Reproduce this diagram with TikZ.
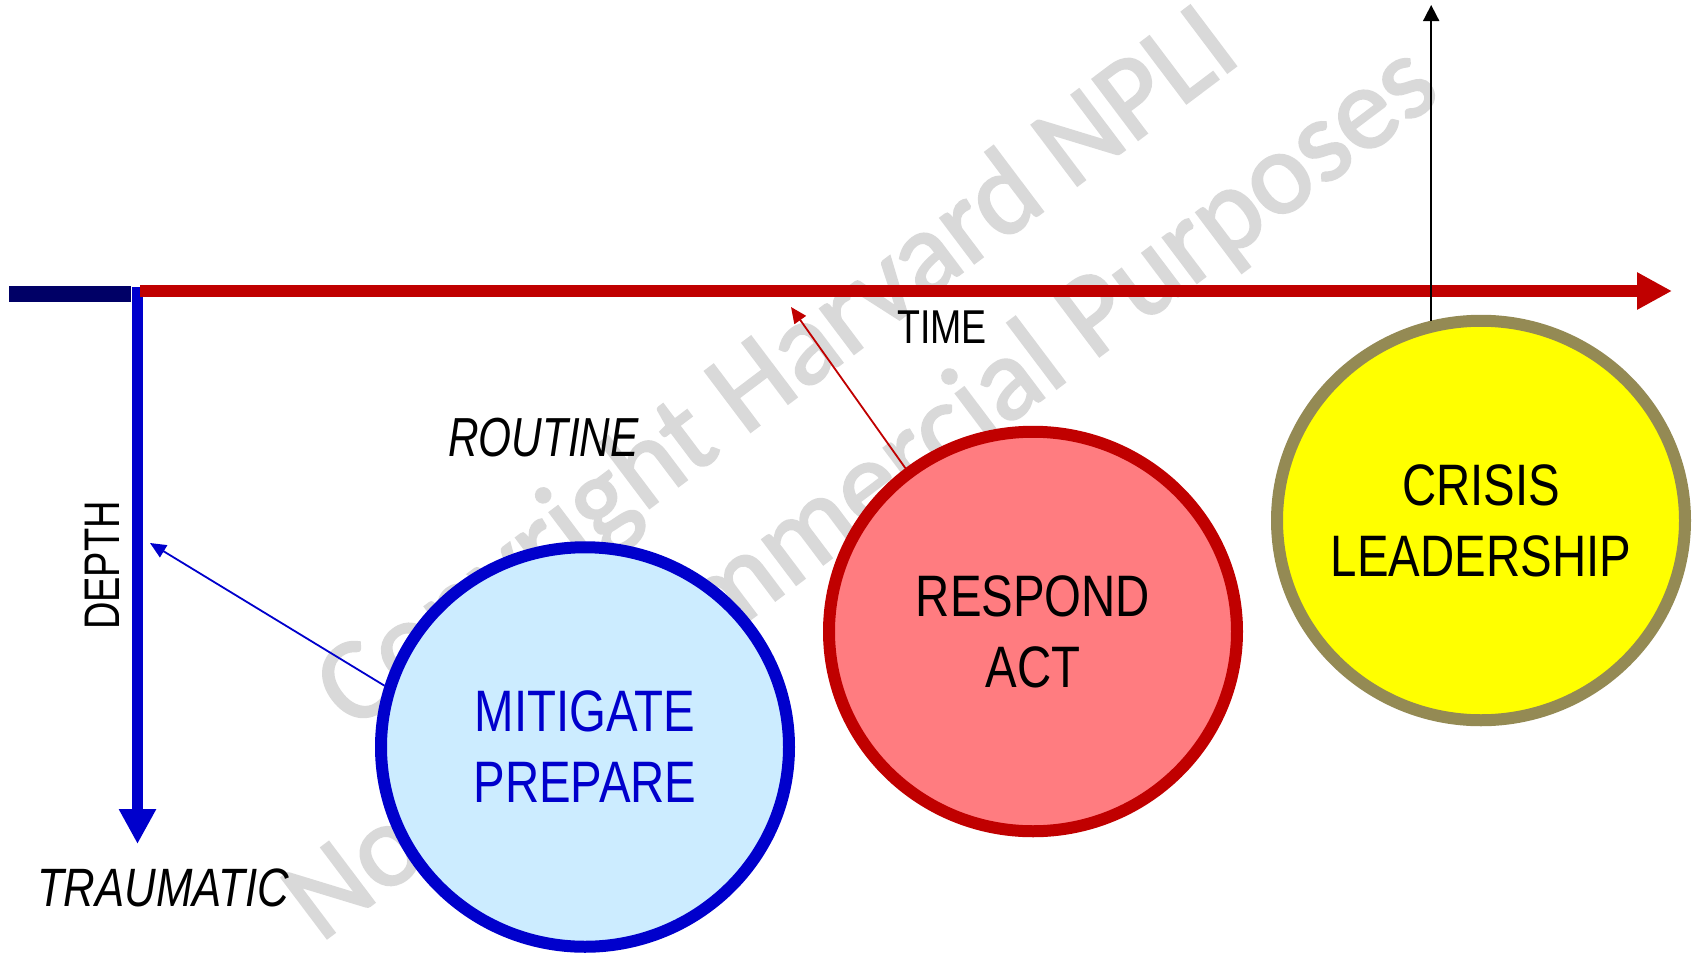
\documentclass[tikz,border=0pt]{standalone}
\usepackage{fontspec}
\setmainfont{Liberation Sans}
\newfontfamily\wmfont[FakeBold=2]{Carlito}
\usetikzlibrary{arrows.meta,shapes.geometric}

\definecolor{axisblue}{HTML}{0000CC}
\definecolor{axisred}{HTML}{C00000}
\definecolor{navybar}{HTML}{000066}
\definecolor{mitfill}{HTML}{CCECFF}
\definecolor{respfill}{HTML}{FF7C80}
\definecolor{crisfill}{HTML}{FFFF00}
\definecolor{crisline}{HTML}{948A54}
\definecolor{wmgray}{HTML}{D9D9D9}

\begin{document}
\begin{tikzpicture}[x=1pt,y=-1pt,
  phase/.style={ellipse, draw, line width=12pt, minimum width=408pt,
    minimum height=399.5pt, inner sep=0pt},
  phasetext/.style={inner sep=0pt, align=center,
    font=\fontsize{58.5}{71}\selectfont\addfontfeature{FakeStretch=0.81}},
  lbl/.style={anchor=base west, inner sep=0pt},
  wm/.style={anchor=base, inner sep=0pt, rotate=37, text=wmgray,
    font=\wmfont\fontsize{118}{140}\selectfont},
  pointer/.style={line width=1.8pt, -{Triangle[length=16pt,width=14pt]}},
  bigaxis/.style={-{Triangle[length=35pt,width=35pt]}}
]
\useasboundingbox (0,0) rectangle (1698,953);

% watermark behind everything
\node[wm] (wm1) at (798,396) {Copyright Harvard NPLI};
\node[wm] (wm2) at (882,520) {Not for Commercial Purposes};

% axes
\coordinate (navyL) at (9,294);
\coordinate (navyR) at (131,294);
\draw[navybar, line width=16pt] (navyL) -- (navyR);

\coordinate (depthtop) at (137.5,287);
\coordinate (depthend) at (137.5,844);
\draw[axisblue, line width=11pt, bigaxis] (depthtop) -- (depthend);

\coordinate (timestart) at (140,291);
\coordinate (timeend) at (1672,291);
\draw[axisred, line width=12pt, bigaxis] (timestart) -- (timeend);

% phases
\node[phase, fill=mitfill, draw=axisblue] (mitigate) at (585,747) {};
\node[phasetext, text=axisblue] (mitigatetext) at (mitigate.center) {MITIGATE\\PREPARE};
\node[phase, fill=respfill, draw=axisred] (respond) at (1033,631.5) {};
\node[phasetext] (respondtext) at (respond.center) {RESPOND\\ACT};
\node[phase, fill=crisfill, draw=crisline] (crisis) at (1481,520.5) {};
\node[phasetext] (crisistext) at (crisis.center) {CRISIS\\LEADERSHIP};

% pointers from the phases to the axes
\coordinate (depthmark) at (150,543);
\draw[axisblue, pointer] (mitigate.163.6) -- (depthmark);
\coordinate (timemark) at (791,307);
\draw[axisred, pointer] (respond.128.8) -- (timemark);
\coordinate (crisistop) at (1431,5);
\draw[black, line width=1.7pt, -{Triangle[length=16pt,width=16pt]}] (crisis.104.06) -- (crisis.104.06 |- crisistop);

% axis labels
\node[lbl, font=\fontsize{47.5}{50}\selectfont\addfontfeature{FakeStretch=0.79}] (time) at (897,343) {TIME};
\node[lbl, font=\fontsize{55}{58}\selectfont\itshape\addfontfeature{FakeStretch=0.77}] (routine) at (448,456) {ROUTINE};
\node[lbl, font=\fontsize{54}{57}\selectfont\itshape\addfontfeature{FakeStretch=0.81}] (traumatic) at (37,906) {TRAUMATIC};
\node[lbl, rotate=90, font=\fontsize{50}{53}\selectfont\addfontfeature{FakeStretch=0.76}] (depth) at (119,630) {DEPTH};
\end{tikzpicture}
\end{document}
